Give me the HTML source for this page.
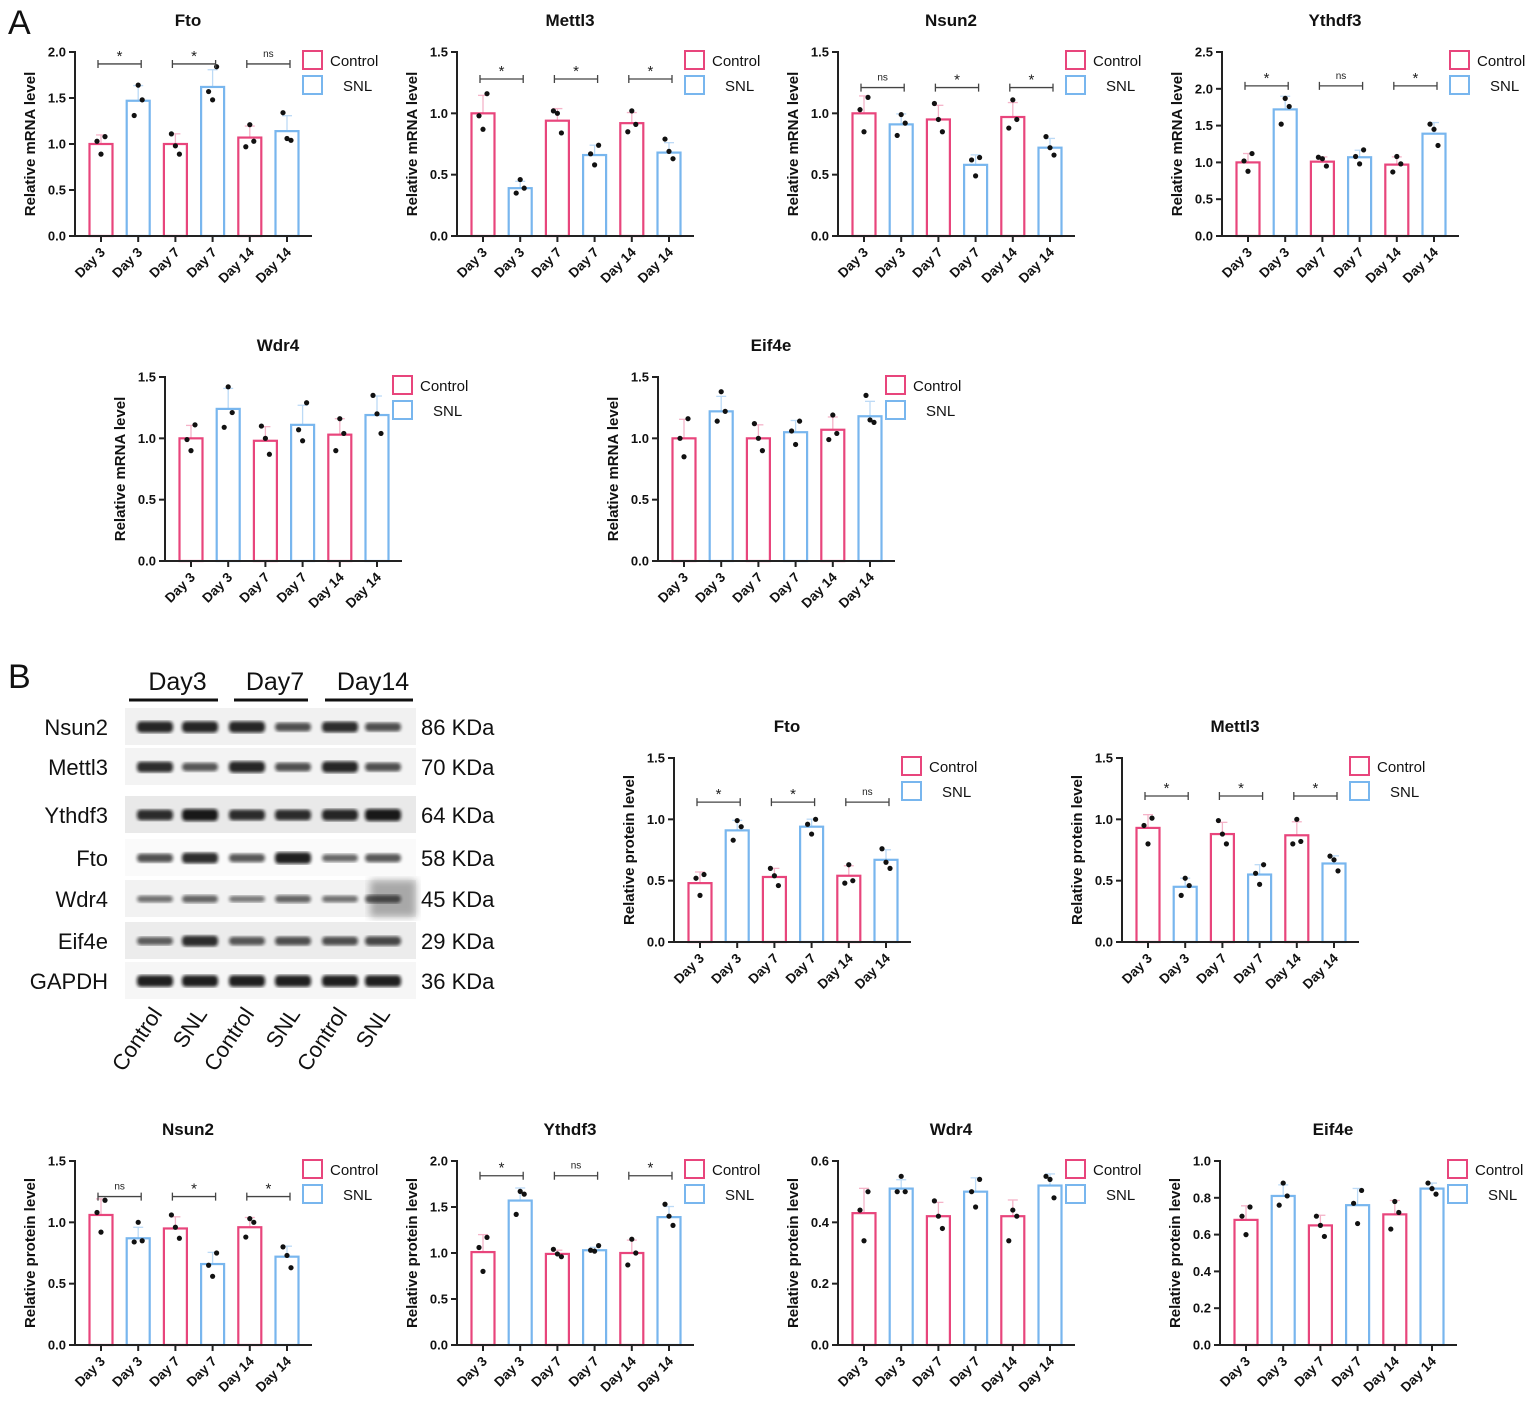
<!DOCTYPE html>
<html><head><meta charset="utf-8">
<style>
html,body{margin:0;padding:0;background:#fff;}
body{width:1535px;height:1404px;position:relative;overflow:hidden;font-family:"Liberation Sans",Arial,sans-serif;}
svg{position:absolute;left:0;top:0;}
</style></head>
<body>
<svg id="fig" width="1535" height="1404" viewBox="0 0 1535 1404" xmlns="http://www.w3.org/2000/svg">
<defs>
<filter id="blur1"><feGaussianBlur stdDeviation="1.6"/></filter>
<filter id="blur2"><feGaussianBlur stdDeviation="4"/></filter>
</defs>
</svg>
<script>
const NS='http://www.w3.org/2000/svg';
const svg=document.getElementById('fig');
function mk(tag,attrs,parent,text){const e=document.createElementNS(NS,tag);for(const k in attrs)e.setAttribute(k,attrs[k]);if(text!==undefined)e.textContent=text;(parent||svg).appendChild(e);return e;}

const categories=['Day 3','Day 3','Day 7','Day 7','Day 14','Day 14'];
const groups=['Control','SNL'];

// ---- chart data ----
const ftoMrnaMeans=[1.0,1.47,1.0,1.62,1.07,1.14];
const ftoMrnaDots=[[0.89,1.03,1.08],[1.31,1.48,1.64],[0.89,0.98,1.11],[1.48,1.57,1.84],[0.97,1.03,1.21],[1.04,1.06,1.34]];
const ftoMrnaSig=['*','*','ns'];
const mettl3MrnaMeans=[1.0,0.39,0.94,0.66,0.92,0.68];
const mettl3MrnaDots=[[0.87,0.98,1.16],[0.35,0.39,0.46],[0.84,1.0,1.02],[0.58,0.67,0.74],[0.85,0.91,1.02],[0.63,0.69,0.79]];
const mettl3MrnaSig=['*','*','*'];
const nsun2MrnaMeans=[1.0,0.91,0.95,0.58,0.97,0.72];
const nsun2MrnaDots=[[0.85,1.03,1.13],[0.82,0.92,0.99],[0.85,0.95,1.08],[0.49,0.62,0.64],[0.88,0.95,1.11],[0.66,0.72,0.81]];
const nsun2MrnaSig=['ns','*','*'];
const ythdf3MrnaMeans=[1.0,1.72,1.01,1.07,0.97,1.39];
const ythdf3MrnaDots=[[0.88,1.02,1.12],[1.52,1.76,1.87],[0.95,1.05,1.07],[0.98,1.08,1.17],[0.87,0.98,1.08],[1.23,1.45,1.52]];
const ythdf3MrnaSig=['*','ns','*'];
const wdr4MrnaMeans=[1.0,1.24,0.98,1.11,1.03,1.19];
const wdr4MrnaDots=[[0.9,0.99,1.11],[1.09,1.21,1.42],[0.87,1.0,1.1],[0.98,1.07,1.29],[0.9,1.04,1.16],[1.04,1.2,1.35]];
const eif4eMrnaMeans=[1.0,1.22,1.0,1.05,1.07,1.18];
const eif4eMrnaDots=[[0.85,1.0,1.16],[1.14,1.22,1.38],[0.9,1.0,1.12],[0.95,1.06,1.14],[0.99,1.04,1.19],[1.13,1.15,1.35]];
const ftoProtMeans=[0.48,0.91,0.53,0.94,0.54,0.67];
const ftoProtDots=[[0.38,0.52,0.55],[0.83,0.94,0.99],[0.46,0.54,0.6],[0.88,0.96,1.0],[0.48,0.5,0.63],[0.6,0.65,0.76]];
const ftoProtSig=['*','*','ns'];
const mettl3ProtMeans=[0.93,0.45,0.88,0.55,0.87,0.64];
const mettl3ProtDots=[[0.8,0.95,1.01],[0.38,0.46,0.52],[0.8,0.88,0.99],[0.47,0.56,0.63],[0.8,0.82,1.0],[0.58,0.67,0.7]];
const mettl3ProtSig=['*','*','*'];
const nsun2ProtMeans=[1.06,0.87,0.95,0.66,0.96,0.72];
const nsun2ProtDots=[[0.92,1.08,1.18],[0.84,0.85,1.0],[0.87,0.96,1.06],[0.56,0.65,0.75],[0.88,1.0,1.03],[0.63,0.73,0.8]];
const nsun2ProtSig=['ns','*','*'];
const ythdf3ProtMeans=[1.01,1.57,0.99,1.03,1.0,1.39];
const ythdf3ProtDots=[[0.8,1.06,1.17],[1.42,1.64,1.67],[0.96,0.99,1.04],[1.02,1.03,1.08],[0.87,1.0,1.15],[1.3,1.4,1.53]];
const ythdf3ProtSig=['*','ns','*'];
const wdr4ProtMeans=[0.43,0.51,0.42,0.50,0.42,0.52];
const wdr4ProtDots=[[0.34,0.44,0.5],[0.5,0.5,0.55],[0.38,0.42,0.47],[0.45,0.5,0.54],[0.34,0.42,0.44],[0.48,0.54,0.55]];
const eif4eProtMeans=[0.68,0.81,0.65,0.76,0.71,0.85];
const eif4eProtDots=[[0.6,0.7,0.75],[0.76,0.81,0.88],[0.59,0.65,0.7],[0.66,0.77,0.84],[0.63,0.72,0.78],[0.82,0.85,0.88]];

const mrnaTicks=['0.0','0.5','1.0','1.5'];
const mrnaTicks20=['0.0','0.5','1.0','1.5','2.0'];
const mrnaTicks25=['0.0','0.5','1.0','1.5','2.0','2.5'];
const wdr4ProtTicks=['0.0','0.2','0.4','0.6'];
const eif4eProtTicks=['0.0','0.2','0.4','0.6','0.8','1.0'];

const PINK='#e8457c',BLUE='#78b6ee',PINKL='#f5b3c8',BLUEL='#bcdaf6';
const JIT=[0,-4,4];

function chart(o){
  const g=mk('g',{});
  
  
  const ax=o.ax,y0=o.y0,yt=o.yt,max=parseFloat(o.ticks[o.ticks.length-1]);
  const ys=v=>y0-(v/max)*(y0-yt);
  const xs=i=>ax+26+i*37.2;
  const t=mk('text',{x:ax+113,y:yt-26,'text-anchor':'middle','font-size':17,'font-weight':'bold',fill:'#111'},g,o.title);
  
  
  const yl=mk('text',{x:0,y:0,transform:`translate(${ax-40},${(y0+yt)/2}) rotate(-90)`,'text-anchor':'middle','font-size':15,'font-weight':'bold',fill:'#111'},g,o.ylabel);
  
  
  o.means.forEach((m,i)=>{
    const c=i%2?BLUE:PINK,cl=i%2?BLUEL:PINKL;
    const d=o.dots[i];const mean=d.reduce((a,b)=>a+b,0)/3;
    const sd=Math.sqrt(d.reduce((a,b)=>a+(b-mean)*(b-mean),0)/2);
    const eb=mk('line',{x1:xs(i),x2:xs(i),y1:ys(m),y2:ys(m+sd),stroke:cl,'stroke-width':1.3},g);
    
    
    mk('line',{x1:xs(i)-5,x2:xs(i)+5,y1:ys(m+sd),y2:ys(m+sd),stroke:cl,'stroke-width':1.3},g);
    const r=mk('rect',{x:xs(i)-11.5,y:ys(m),width:23,height:y0-ys(m),fill:'none',stroke:c,'stroke-width':2.2},g);
    
    
    d.forEach((v,k)=>{
      const p=mk('circle',{cx:xs(i)+JIT[(k+i)%3],cy:ys(v),r:2.6,fill:'#111'},g);
      
      
    });
  });
  mk('line',{x1:ax,x2:ax,y1:yt-1,y2:y0+1,stroke:'#222','stroke-width':2},g);
  mk('line',{x1:ax-1,x2:ax+237,y1:y0,y2:y0,stroke:'#222','stroke-width':2},g);
  o.ticks.forEach(tk=>{
    const y=ys(parseFloat(tk));
    mk('line',{x1:ax-6,x2:ax,y1:y,y2:y,stroke:'#222','stroke-width':2},g);
    const tl=mk('text',{x:ax-9,y:y+4.5,'text-anchor':'end','font-size':13,'font-weight':'bold',fill:'#111'},g,tk);
    
    
  });
  categories.forEach((c,i)=>{
    mk('line',{x1:xs(i),x2:xs(i),y1:y0,y2:y0+6,stroke:'#222','stroke-width':2},g);
    const tl=mk('text',{x:0,y:0,transform:`translate(${xs(i)+5},${y0+17}) rotate(-45)`,'text-anchor':'end','font-size':13.5,'font-weight':'bold',fill:'#111'},g,c);
    
    
  });
  if(o.sig){
    const sy=ys(o.sigY);
    o.sig.forEach((s,k)=>{
      const a=xs(2*k)-3,b=xs(2*k+1)+3;
      const sl=mk('path',{d:`M${a},${sy-4}V${sy+4}M${a},${sy}H${b}M${b},${sy-4}V${sy+4}`,stroke:'#444','stroke-width':1.3,fill:'none'},g);
      
      
      const st=mk('text',{x:(a+b)/2,y:s=='*'?sy-3:sy-7,'text-anchor':'middle','font-size':s=='*'?15:10,fill:'#222'},g,s);
      
      
    });
  }
  const lx=ax+228;
  const lg=mk('g',{},g);
  
  
  mk('rect',{x:lx,y:yt-1,width:19,height:18,fill:'none',stroke:PINK,'stroke-width':2},lg);
  mk('text',{x:lx+27,y:yt+14,'font-size':15,fill:'#111'},lg,'Control');
  mk('rect',{x:lx,y:yt+24,width:19,height:18,fill:'none',stroke:BLUE,'stroke-width':2},lg);
  mk('text',{x:lx+40,y:yt+39,'font-size':15,fill:'#111'},lg,'SNL');
}
const M='Relative mRNA level',P='Relative protein level';
chart({name:'fto-mrna-chart',title:'Fto',ylabel:M,ax:75,y0:236,yt:52,ticks:mrnaTicks20,means:ftoMrnaMeans,dots:ftoMrnaDots,sig:ftoMrnaSig,sigY:1.87});
chart({name:'mettl3-mrna-chart',title:'Mettl3',ylabel:M,ax:457,y0:236,yt:52,ticks:mrnaTicks,means:mettl3MrnaMeans,dots:mettl3MrnaDots,sig:mettl3MrnaSig,sigY:1.28});
chart({name:'nsun2-mrna-chart',title:'Nsun2',ylabel:M,ax:838,y0:236,yt:52,ticks:mrnaTicks,means:nsun2MrnaMeans,dots:nsun2MrnaDots,sig:nsun2MrnaSig,sigY:1.21});
chart({name:'ythdf3-mrna-chart',title:'Ythdf3',ylabel:M,ax:1222,y0:236,yt:52,ticks:mrnaTicks25,means:ythdf3MrnaMeans,dots:ythdf3MrnaDots,sig:ythdf3MrnaSig,sigY:2.04});
chart({name:'wdr4-mrna-chart',title:'Wdr4',ylabel:M,ax:165,y0:561,yt:377,ticks:mrnaTicks,means:wdr4MrnaMeans,dots:wdr4MrnaDots});
chart({name:'eif4e-mrna-chart',title:'Eif4e',ylabel:M,ax:658,y0:561,yt:377,ticks:mrnaTicks,means:eif4eMrnaMeans,dots:eif4eMrnaDots});
chart({name:'fto-protein-chart',title:'Fto',ylabel:P,ax:674,y0:942,yt:758,ticks:mrnaTicks,means:ftoProtMeans,dots:ftoProtDots,sig:ftoProtSig,sigY:1.14});
chart({name:'mettl3-protein-chart',title:'Mettl3',ylabel:P,ax:1122,y0:942,yt:758,ticks:mrnaTicks,means:mettl3ProtMeans,dots:mettl3ProtDots,sig:mettl3ProtSig,sigY:1.19});
chart({name:'nsun2-protein-chart',title:'Nsun2',ylabel:P,ax:75,y0:1345,yt:1161,ticks:mrnaTicks,means:nsun2ProtMeans,dots:nsun2ProtDots,sig:nsun2ProtSig,sigY:1.21});
chart({name:'ythdf3-protein-chart',title:'Ythdf3',ylabel:P,ax:457,y0:1345,yt:1161,ticks:mrnaTicks20,means:ythdf3ProtMeans,dots:ythdf3ProtDots,sig:ythdf3ProtSig,sigY:1.84});
chart({name:'wdr4-protein-chart',title:'Wdr4',ylabel:P,ax:838,y0:1345,yt:1161,ticks:wdr4ProtTicks,means:wdr4ProtMeans,dots:wdr4ProtDots});
chart({name:'eif4e-protein-chart',title:'Eif4e',ylabel:P,ax:1220,y0:1345,yt:1161,ticks:eif4eProtTicks,means:eif4eProtMeans,dots:eif4eProtDots});

let pl=mk('text',{x:8,y:34,'font-size':34,fill:'#111'},svg,'A');

pl=mk('text',{x:8,y:688,'font-size':34,fill:'#111'},svg,'B');


const blotProteins=['Nsun2','Mettl3','Ythdf3','Fto','Wdr4','Eif4e','GAPDH'];
const blotKda=['86 KDa','70 KDa','64 KDa','58 KDa','45 KDa','29 KDa','36 KDa'];
const bandIntensity=[[0.9,0.9,0.9,0.6,0.85,0.6],[0.85,0.55,0.9,0.6,0.9,0.6],[0.85,1,0.85,0.85,0.9,1],[0.6,0.85,0.55,0.95,0.45,0.55],[0.35,0.45,0.3,0.45,0.35,0.5],[0.5,0.85,0.55,0.6,0.6,0.65],[0.95,0.95,0.95,0.95,0.95,0.95]];
const wb=mk('g',{});


const laneX=[155,200,247,293,340,383];
const rowY=[727,767,815,858,899,941,981];
const rowBg=['#f1f1f1','#f3f3f3','#e9e9e9','#fafafa','#f2f2f2','#ececec','#f6f6f6'];
rowY.forEach((y,r)=>{
  mk('rect',{x:125,y:y-19,width:291,height:37,fill:rowBg[r]},wb);
  if(r==4) mk('rect',{x:370,y:y-19,width:46,height:37,fill:'#777',filter:'url(#blur2)',opacity:0.6},wb);
  laneX.forEach((x,l)=>{
    const a=bandIntensity[r][l];
    const b=mk('rect',{x:x-18,y:y-2-a*4,width:36,height:4+a*8,rx:4,fill:'#111',opacity:0.35+a*0.6,filter:'url(#blur1)'},wb);
    
    
  });
  const lt=mk('text',{x:108,y:y+8,'text-anchor':'end','font-size':22,fill:'#111'},wb,blotProteins[r]);
  
  const kt=mk('text',{x:421,y:y+8,'font-size':22,fill:'#111'},wb,blotKda[r]);
  
});
const dayHeads=['Day3','Day7','Day14'];
const headSpan=[[129,218],[234,308],[325,413]];
dayHeads.forEach((d,i)=>{
  const [a,b]=headSpan[i];
  const t=mk('text',{x:(a+b)/2+4,y:690,'text-anchor':'middle','font-size':25,fill:'#111'},wb,d);
  
  mk('line',{x1:a,x2:b,y1:700,y2:700,stroke:'#111','stroke-width':3},wb);
});
laneX.forEach((x,l)=>{
  const t=mk('text',{x:0,y:0,transform:`translate(${x+8},${1014}) rotate(-56)`,'text-anchor':'end','font-size':22,fill:'#111'},wb,groups[l%2]);
  
});
</script>
</body></html>
